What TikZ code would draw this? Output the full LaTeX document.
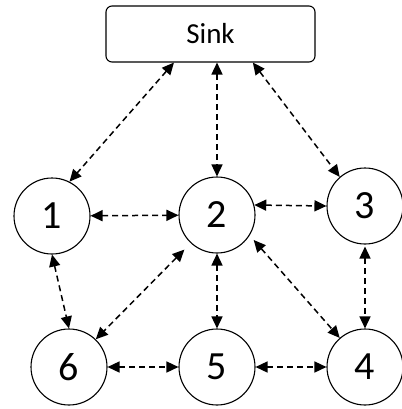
\documentclass[tikz,border=0pt]{standalone}
\usepackage{fontspec}
\setmainfont{Carlito}
\usetikzlibrary{arrows.meta}
\begin{document}
\begin{tikzpicture}[x=1pt,y=-1pt,
  nodecirc/.style={circle,draw,line width=1.1pt,minimum size=76pt,inner sep=0pt,font=\fontsize{40}{40}\selectfont},
  sinkbox/.style={draw,line width=1.1pt,rounded corners=6pt,minimum width=209pt,minimum height=56pt,inner sep=0pt,font=\fontsize{29}{29}\selectfont},
  arr/.style={line width=1.5pt,dash pattern=on 6pt off 4pt,{Triangle[length=12pt,width=11pt]}-{Triangle[length=12pt,width=11pt]}}]
\useasboundingbox (0,0) rectangle (401,409);
\node[sinkbox] (sink) at (210.5,34) {Sink};
\node[nodecirc] (n1) at (52,216) {1};
\node[nodecirc] (n2) at (217,215) {2};
\node[nodecirc] (n3) at (365,206) {3};
\node[nodecirc] (n6) at (69,367) {6};
\node[nodecirc] (n5) at (217,367) {5};
\node[nodecirc] (n4) at (365,367) {4};
\draw[arr] (sink.218) -- (n1.63);
\draw[arr] (sink.south -| n2) -- (n2.north);
\draw[arr] (sink.326) -- (n3.131);
\draw[arr] (n1) -- (n2);
\draw[arr] (n2.15) -- (n3.180);
\draw[arr] (n1.south) -- (n6.north);
\draw[arr,shorten <=9pt] (n2.227) -- (n6.46);
\draw[arr] (n2) -- (n5);
\draw[arr,shorten <=6pt] (n2.-32) -- (n4.131);
\draw[arr,shorten <=2pt] (n3) -- (n4);
\draw[arr] (n6) -- (n5);
\draw[arr] (n5) -- (n4);
\end{tikzpicture}
\end{document}
